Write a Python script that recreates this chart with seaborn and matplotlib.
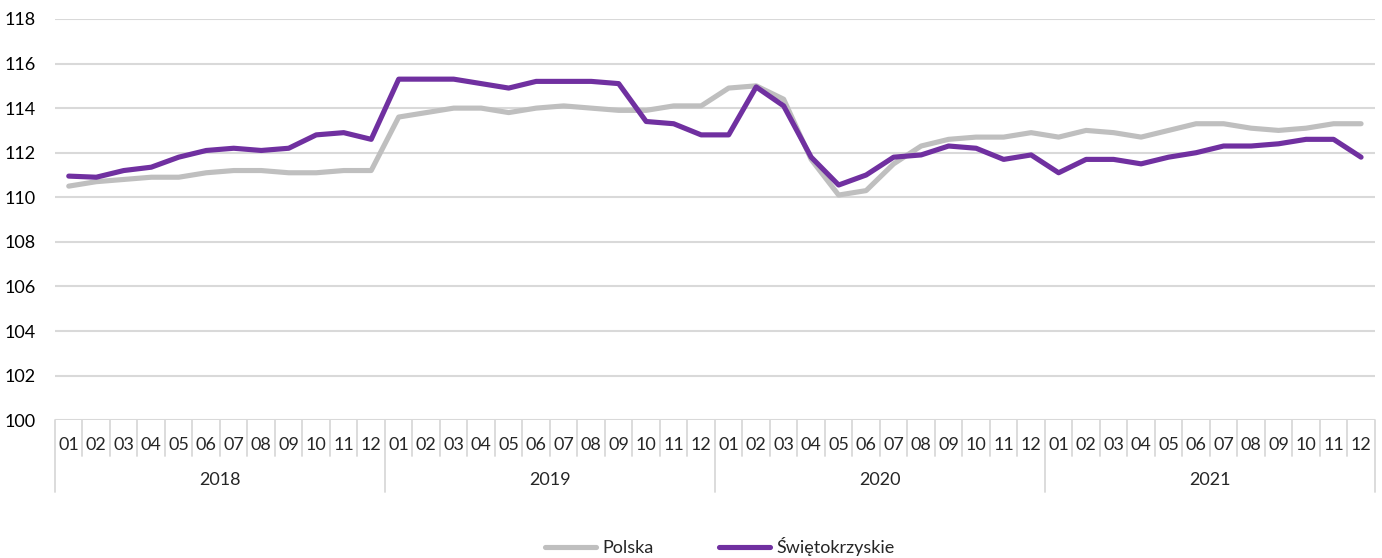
import pandas as pd
import numpy as np
import matplotlib.pyplot as plt
import seaborn as sns
from matplotlib.lines import Line2D

years = ["2018", "2019", "2020", "2021"]
months = ["01", "02", "03", "04", "05", "06", "07", "08", "09", "10", "11", "12"]

# wartosci (miesiecznie 2018-2021)
polska = [110.5, 110.7, 110.8, 110.9, 110.9, 111.1, 111.2, 111.2, 111.1, 111.1, 111.2, 111.2,
          113.6, 113.8, 114.0, 114.0, 113.8, 114.0, 114.1, 114.0, 113.9, 113.9, 114.1, 114.1,
          114.9, 115.0, 114.4, 111.7, 110.1, 110.3, 111.5, 112.3, 112.6, 112.7, 112.7, 112.9,
          112.7, 113.0, 112.9, 112.7, 113.0, 113.3, 113.3, 113.1, 113.0, 113.1, 113.3, 113.3]
swietokrzyskie = [110.95, 110.9, 111.2, 111.35, 111.8, 112.1, 112.2, 112.1, 112.2, 112.8, 112.9, 112.6,
                  115.3, 115.3, 115.3, 115.1, 114.9, 115.2, 115.2, 115.2, 115.1, 113.4, 113.3, 112.8,
                  112.8, 114.95, 114.1, 111.8, 110.55, 111.0, 111.8, 111.9, 112.3, 112.2, 111.7, 111.9,
                  111.1, 111.7, 111.7, 111.5, 111.8, 112.0, 112.3, 112.3, 112.4, 112.6, 112.6, 111.8]

n = len(polska)
df = pd.DataFrame({
    "idx": list(range(n)) * 2,
    "wartosc": polska + swietokrzyskie,
    "seria": ["Polska"] * n + ["Świętokrzyskie"] * n,
})

sns.set_style("white")
plt.rcParams["font.family"] = ["Lato", "DejaVu Sans"]
fs = 13

fig = plt.figure(figsize=(13.82, 5.58), dpi=100)
ax = fig.add_axes([0.0398, 0.247, 0.955, 0.719])

sns.lineplot(data=df, x="idx", y="wartosc", hue="seria",
             palette={"Polska": "#BFBFBF", "Świętokrzyskie": "#7030A0"},
             linewidth=3.7, ax=ax, legend=False)

ax.set_ylim(100, 118)
ax.set_yticks(np.arange(100, 119, 2))
ax.set_xlim(-0.5, n - 0.5)
ax.yaxis.grid(True, color="#D9D9D9", linewidth=1.5)
ax.set_axisbelow(True)
for s in ax.spines.values():
    s.set_visible(False)
ax.tick_params(axis="y", length=0, labelsize=fs, pad=14, colors="#000000")
ax.set_xlabel("")
ax.set_ylabel("")

# etykiety miesiecy i lat
ax.set_xticks(range(n))
ax.set_xticklabels(months * len(years), fontsize=fs)
ax.tick_params(axis="x", length=0, pad=12)

h_px = 0.719 * 558
for i, y in enumerate(years):
    ax.text(i * 12 + 5.5, -60 / h_px, y, transform=ax.get_xaxis_transform(),
            ha="center", va="center", fontsize=fs)

# linie oddzielajace
for b in range(n + 1):
    depth = 72 if b % 12 == 0 else 36
    ax.plot([b - 0.5, b - 0.5], [0, -depth / h_px], transform=ax.get_xaxis_transform(),
            color="#D9D9D9", linewidth=1.3, clip_on=False)

handles = [Line2D([], [], color="#BFBFBF", lw=3.7), Line2D([], [], color="#7030A0", lw=3.7)]
fig.legend(handles, ["Polska", "Świętokrzyskie"], loc="center", bbox_to_anchor=(0.521, 0.02),
           ncol=2, frameon=False, fontsize=fs, handlelength=2.8, columnspacing=3.6, handletextpad=0.4)

fig.savefig("out.png", dpi=100)
